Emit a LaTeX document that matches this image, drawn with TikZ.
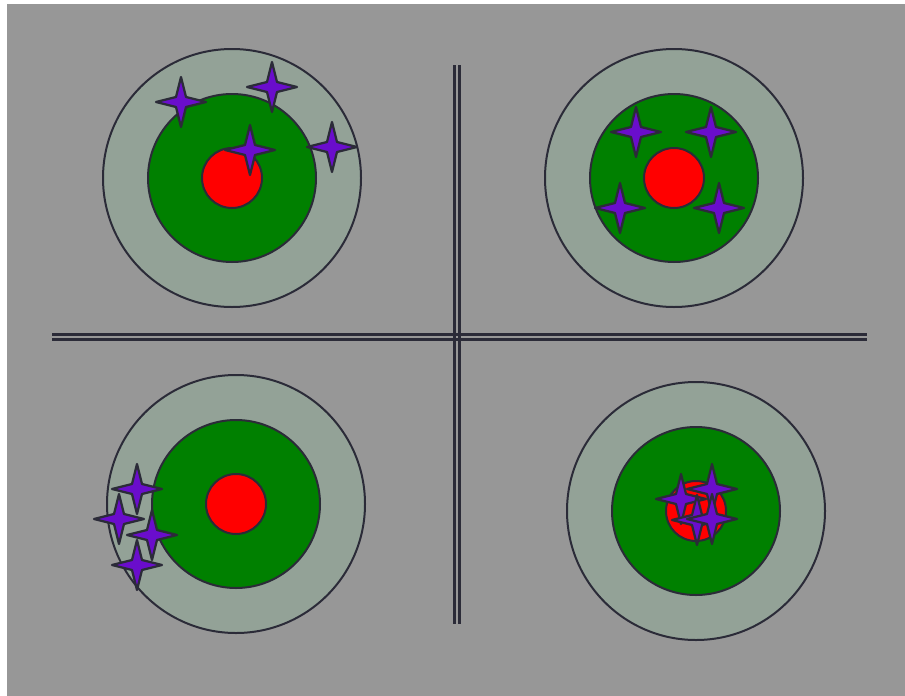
\documentclass[tikz,border=0pt]{standalone}
\usepackage{tikz}
\usetikzlibrary{calc}
\definecolor{bgcolor}{HTML}{979797}
\definecolor{ringcolor}{HTML}{93A297}
\definecolor{edgecolor}{HTML}{2B2B38}
\definecolor{shotcolor}{HTML}{6A0DCC}
\definecolor{bullgreen}{HTML}{008000}
\def\outerr{129}
\def\middler{84}
\def\innerr{30}
\def\shotsize{25}
\def\shotwaist{5}
\tikzset{
  ring/.style={draw=edgecolor, line width=2pt},
  shot/.style={draw=edgecolor, fill=shotcolor, line width=2.2pt, line join=round},
  divider/.style={draw=edgecolor, line width=3pt}
}
\newcommand{\target}[2]{
\path[ring, fill=ringcolor] (#1, #2) circle(\outerr);
\path[ring, fill=bullgreen] (#1, #2) circle(\middler);
\path[ring, fill=red] (#1, #2) circle(\innerr);
}
\newcommand{\shot}[2]{
\path[shot] (#1, #2) ++(0, -\shotsize)
  -- ++(\shotwaist, \shotsize - \shotwaist) -- ++(\shotsize - \shotwaist, \shotwaist)
  -- ++(\shotwaist - \shotsize, \shotwaist) -- ++(-\shotwaist, \shotsize - \shotwaist)
  -- ++(-\shotwaist, \shotwaist - \shotsize) -- ++(\shotwaist - \shotsize, -\shotwaist)
  -- ++(\shotsize - \shotwaist, -\shotwaist) -- cycle;
}
\begin{document}
\begin{tikzpicture}[x=1pt, y=-1pt]

\useasboundingbox (0, 0) rectangle (905, 696);
\fill[white] (0, 0) rectangle (905, 696);
\fill[bgcolor] (7, 4) rectangle (905, 696);

% cross dividing the four panels
\foreach \y in {334, 339}
  \path[divider] (52, \y) -- (867, \y);
\foreach \x in {454, 459}
  \path[divider] (\x, 65) -- (\x, 624);

\foreach \cx/\cy in {232/178, 674/178, 236/504, 696/511} {
  \target{\cx}{\cy}
}

% top left: low accuracy, low precision
\foreach \sx/\sy in {181/102, 272/87, 250/150, 332/147} {
  \shot{\sx}{\sy}
}

% top right: high accuracy, low precision
\foreach \sx/\sy in {636/132, 711/132, 620/208, 719/208} {
  \shot{\sx}{\sy}
}

% bottom left: low accuracy, high precision
\foreach \sx/\sy in {137/489, 119/519, 152/535, 137/565} {
  \shot{\sx}{\sy}
}

% bottom right: high accuracy, high precision
\foreach \sx/\sy in {712/489, 681/499, 697/520, 712/519} {
  \shot{\sx}{\sy}
}

\end{tikzpicture}
\end{document}
